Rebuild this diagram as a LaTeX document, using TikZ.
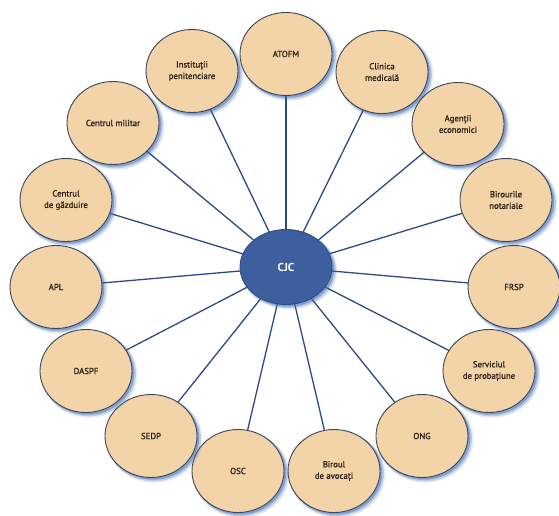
\documentclass[tikz,border=0pt]{standalone}
\usepackage{fontspec}
\setmainfont{PT Sans}
\newfontfamily\lblfont{PT Sans}[FakeBold=1.2]
\newfontfamily\hubfont{PT Sans Bold}
\usetikzlibrary{shapes.geometric,shadows,backgrounds}
\definecolor{nodefill}{HTML}{F3D3A8}
\definecolor{nodeline}{HTML}{3B4657}
\definecolor{hubfill}{HTML}{3E5F9E}
\definecolor{hubline}{HTML}{2F4D85}
\definecolor{connline}{HTML}{2D4B7E}
\definecolor{shadowblue}{HTML}{3D6BB3}
\definecolor{txt}{HTML}{2B2118}
\tikzset{
  glow/.style={
    general shadow={shadow xshift=3bp, shadow yshift=-3bp, shadow scale=1.05, fill=shadowblue, opacity=0.12},
    general shadow={shadow xshift=2.5bp, shadow yshift=-2.5bp, shadow scale=1.03, fill=shadowblue, opacity=0.25},
    general shadow={shadow xshift=1.8bp, shadow yshift=-1.8bp, shadow scale=1.01, fill=shadowblue, opacity=0.45}},
  partner/.style={ellipse, glow, draw=nodeline, line width=0.9bp, fill=nodefill,
    minimum width=92bp, minimum height=83bp, inner sep=0pt, align=center,
    text=txt, font=\lblfont\fontsize{8.8}{11.5}\selectfont},
  hub/.style={ellipse, glow, draw=hubline, line width=0.9bp, fill=hubfill,
    minimum width=92bp, minimum height=75bp, inner sep=0pt, text=white,
    font=\hubfont\fontsize{11.5}{13}\selectfont},
  conn/.style={draw=connline, line width=1.3bp}
}
\begin{document}
\begin{tikzpicture}[x=1bp,y=-1bp]
\useasboundingbox (0,0) rectangle (559,516);
\node[hub] (cjc) at (286,267) {CJC};
\node[partner] (atofm) at (286,54) {ATOFM};
\node[partner] (clin) at (382,72) {Clinica\\medicală};
\node[partner] (agent) at (458,124) {Agenții\\economici};
\node[partner] (notar) at (506,200) {Birourile\\notariale};
\node[partner] (frsp) at (514,287) {FRSP};
\node[partner] (prob) at (489,371) {Serviciul\\de probațiune};
\node[partner] (ong) at (422,436) {ONG};
\node[partner] (avoc) at (334,471) {Biroul\\de avocați};
\node[partner] (osc) at (238,471) {OSC};
\node[partner] (sedp) at (151,436) {SEDP};
\node[partner] (daspf) at (86,371) {DASPF};
\node[partner] (apl) at (56,287) {APL};
\node[partner] (gazd) at (66,200) {Centrul\\de găzduire};
\node[partner] (milit) at (113,123) {Centrul militar};
\node[partner] (penit) at (192,71) {Instituții\\penitenciare};
\begin{scope}[on background layer]
\foreach \n in {atofm,clin,agent,notar,frsp,prob,ong,avoc,osc,sedp,daspf,apl,gazd,milit,penit}
  \draw[conn] (cjc.center) -- (\n.center);
\end{scope}
\end{tikzpicture}
\end{document}
